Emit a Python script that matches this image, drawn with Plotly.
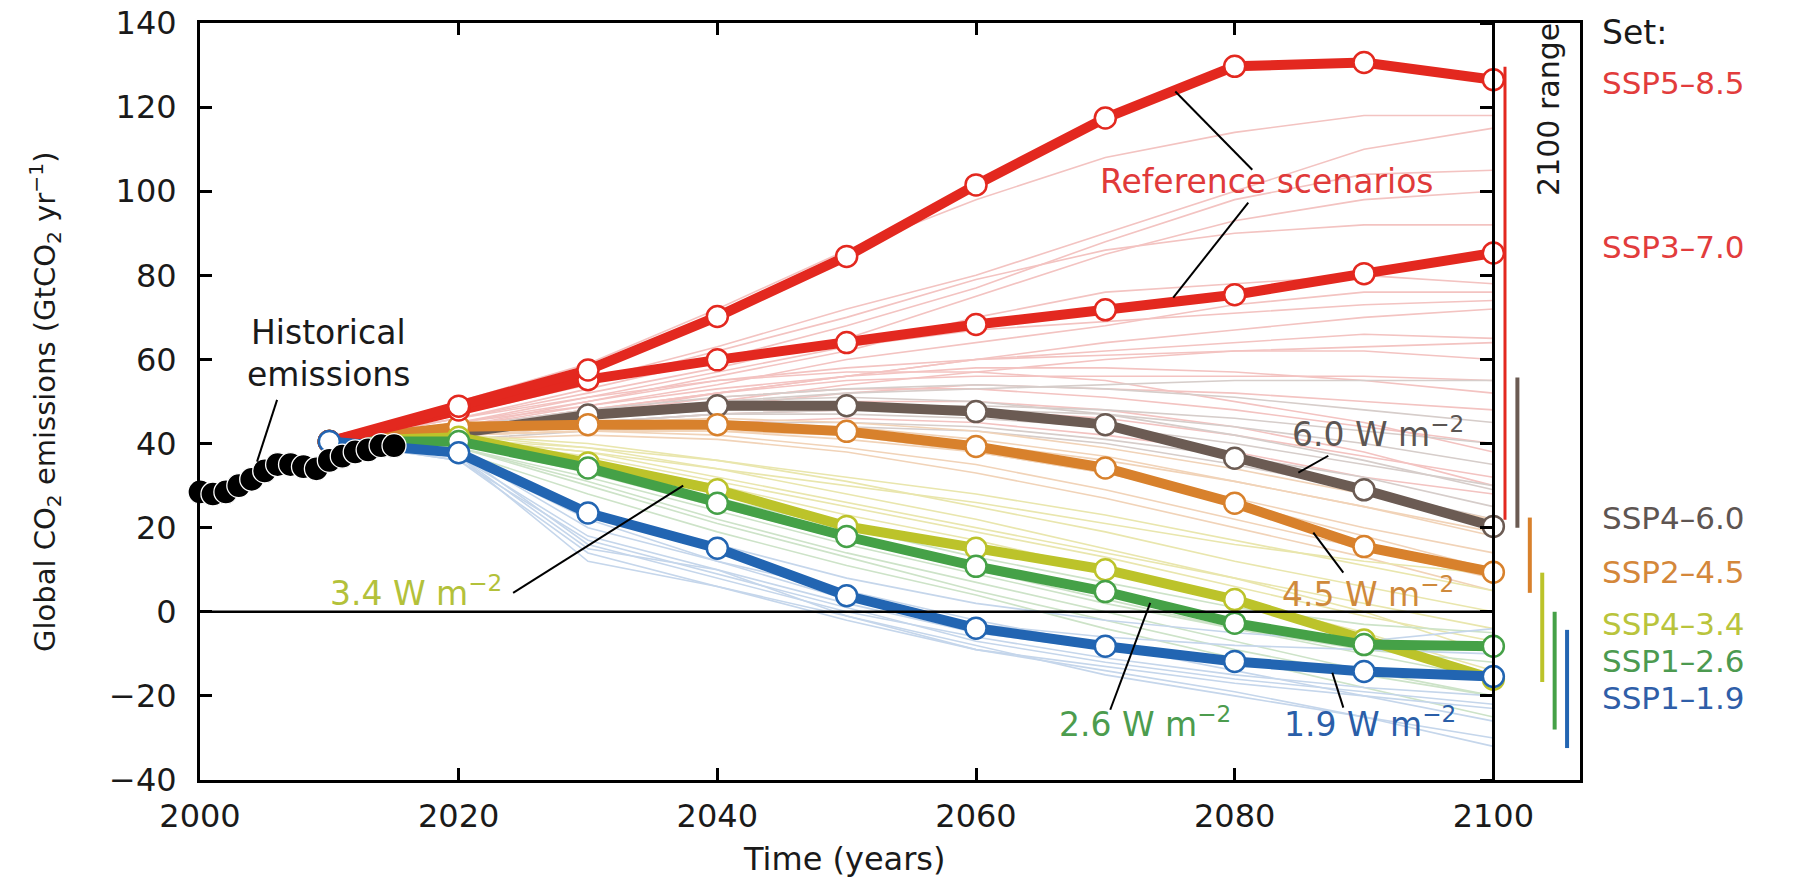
import plotly.graph_objects as go

# ---------------- data ----------------
years = [2010, 2020, 2030, 2040, 2050, 2060, 2070, 2080, 2090, 2100]

hist_years = list(range(2000, 2016))
hist_values = [28.5, 28.0, 28.5, 30.0, 31.5, 33.5, 35.0, 35.0, 34.5, 34.0,
               36.0, 37.0, 38.0, 38.5, 39.5, 39.5]

ssp585 = [40.5, 48.9, 57.5, 70.2, 84.5, 101.5, 117.4, 129.7, 130.6, 126.5]
ssp370 = [40.5, 48.0, 55.2, 59.9, 64.0, 68.3, 71.8, 75.4, 80.4, 85.3]
ssp460 = [40.5, 42.5, 46.8, 49.0, 49.0, 47.6, 44.5, 36.5, 29.0, 20.3]
ssp245 = [40.5, 44.0, 44.5, 44.5, 42.9, 39.3, 34.2, 25.8, 15.5, 9.4]
ssp434 = [40.5, 41.5, 35.4, 29.0, 20.3, 15.1, 10.0, 2.9, -6.7, -16.0]
ssp126 = [40.5, 40.5, 34.2, 25.8, 17.9, 10.8, 4.8, -2.7, -7.8, -8.2]
ssp119 = [40.5, 37.8, 23.5, 15.1, 3.8, -3.9, -8.2, -11.8, -14.2, -15.4]

# faint individual scenario runs
faint_pink = [
    [40.5, 50, 59, 72, 86, 98, 108, 114, 118, 118],
    [40.5, 47, 55, 63, 72, 80, 90, 100, 110, 115],
    [40.5, 46, 53, 60, 68, 77, 88, 98, 104, 105],
    [40.5, 46, 52, 58, 65, 75, 85, 93, 98, 100],
    [40.5, 47, 54, 62, 70, 79, 86, 90, 92, 92],
    [40.5, 45, 50, 56, 62, 70, 76, 78, 80, 78],
    [40.5, 45, 51, 57, 63, 67, 69, 71, 73, 74],
    [40.5, 44, 49, 54, 60, 64, 68, 73, 76, 76],
    [40.5, 44, 48, 52, 56, 60, 64, 67, 70, 72],
    [40.5, 44, 48, 52, 56, 60, 62, 64, 66, 65],
    [40.5, 43, 46, 50, 54, 57, 60, 62, 63, 64],
    [40.5, 46, 51, 55, 58, 60, 61, 62, 62, 60],
    [40.5, 44, 47, 52, 55, 56, 56, 56, 56, 55],
    [40.5, 45, 49, 53, 56, 58, 58, 57, 55, 52],
    [40.5, 43, 46, 49, 52, 54, 53, 52, 50, 48],
    [40.5, 43, 47, 51, 53, 53, 51, 48, 44, 40],
    [40.5, 44, 50, 55, 57, 57, 55, 50, 45, 38],
    [40.5, 43, 45, 47, 48, 48, 46, 42, 37, 32],
    [40.5, 42, 44, 45, 46, 45, 42, 38, 32, 28],
    [40.5, 43, 46, 49, 50, 50, 48, 44, 38, 30],
]
faint_gray = [
    [40.5, 43, 47, 50, 52, 53, 54, 55, 55, 55],
    [40.5, 44, 48, 51, 53, 54, 53, 51, 48, 45],
    [40.5, 43, 46, 48, 49, 49, 48, 46, 43, 40],
    [40.5, 42, 45, 47, 48, 48, 47, 44, 40, 35],
    [40.5, 42, 45, 47, 47, 46, 44, 40, 35, 30],
    [40.5, 42, 44, 45, 45, 44, 41, 37, 32, 25],
    [40.5, 43, 47, 50, 51, 50, 47, 42, 36, 29],
    [40.5, 41, 43, 44, 44, 43, 40, 35, 29, 22],
]
faint_orange = [
    [40.5, 43, 45, 46, 45, 43, 39, 34, 28, 22],
    [40.5, 42, 43, 43, 42, 40, 36, 31, 25, 19],
    [40.5, 42, 43, 43, 41, 38, 33, 27, 20, 14],
    [40.5, 42, 43, 42, 39, 35, 29, 22, 15, 8],
    [40.5, 43, 44, 44, 42, 38, 33, 26, 18, 10],
    [40.5, 41, 42, 41, 38, 33, 27, 20, 13, 5],
    [40.5, 42, 44, 45, 44, 41, 37, 31, 25, 18],
]
faint_yellow = [
    [40.5, 41, 38, 34, 30, 26, 21, 16, 12, 9],
    [40.5, 41, 39, 36, 32, 28, 23, 17, 11, 5],
    [40.5, 42, 40, 36, 31, 25, 19, 12, 6, 0],
    [40.5, 41, 37, 31, 25, 19, 13, 6, -1, -7],
    [40.5, 42, 39, 34, 28, 22, 15, 8, 0, -10],
    [40.5, 40, 36, 30, 23, 17, 10, 3, -5, -14],
    [40.5, 41, 38, 32, 26, 20, 14, 8, 2, -4],
]
faint_green = [
    [40.5, 40, 34, 27, 20, 13, 7, 1, -3, -5],
    [40.5, 39, 32, 24, 16, 9, 2, -4, -9, -12],
    [40.5, 40, 33, 25, 17, 10, 3, -4, -10, -16],
    [40.5, 39, 30, 21, 13, 5, -2, -9, -15, -20],
    [40.5, 38, 28, 19, 11, 4, -4, -11, -18, -25],
    [40.5, 39, 31, 22, 14, 7, 0, -7, -14, -20],
]
faint_blue = [
    [40.5, 37, 22, 12, 3, -3, -6, -8, -9, -10],
    [40.5, 37, 18, 10, 2, -5, -9, -12, -14, -16],
    [40.5, 38, 16, 8, 0, -6, -11, -15, -18, -20],
    [40.5, 36, 17, 9, 1, -7, -12, -16, -19, -22],
    [40.5, 36, 14, 6, -2, -9, -13, -17, -20, -23],
    [40.5, 38, 20, 12, 5, -2, -8, -14, -20, -26],
    [40.5, 37, 12, 6, -1, -8, -15, -20, -25, -30],
    [40.5, 38, 24, 16, 8, 2, -2, -5, -7, -4],
    [40.5, 37, 15, 10, -1, -9, -14, -19, -25, -32],
]

# 2100 ranges per scenario set
range_names = ["Reference", "SSP4-6.0", "SSP2-4.5", "SSP4-3.4", "SSP1-2.6", "SSP1-1.9"]
range_low = [21.9, 20.0, 4.5, -16.7, -28.0, -32.4]
range_high = [129.6, 55.7, 22.4, 9.3, 0.0, -4.3]

set_labels = ["SSP5–8.5", "SSP3–7.0", "SSP4–6.0", "SSP2–4.5", "SSP4–3.4", "SSP1–2.6", "SSP1–1.9"]

# ---------------- styles ----------------
RED = "#e3281f"
BROWN = "#6b5b53"
ORANGE = "#d8812c"
YELLOW = "#bcc32a"
GREEN = "#45a147"
BLUE = "#2265b2"
FONT = "DejaVu Sans"

XMIN, XMAX = 2000, 2106.7
YMIN, YMAX = -40, 140

fig = go.Figure()

faint_groups = [
    (faint_pink, "#f3c3c1"),
    (faint_gray, "#d6cdca"),
    (faint_orange, "#f1d3b8"),
    (faint_yellow, "#e9e6ad"),
    (faint_green, "#cde3c8"),
    (faint_blue, "#c5d6eb"),
]
for group, col in faint_groups:
    for run in group:
        fig.add_trace(go.Scatter(x=years, y=run, mode="lines",
                                 line=dict(color=col, width=1.6),
                                 hoverinfo="skip"))

main = [
    (ssp460, BROWN),
    (ssp245, ORANGE),
    (ssp434, YELLOW),
    (ssp126, GREEN),
    (ssp370, RED),
    (ssp585, RED),
    (ssp119, BLUE),
]
for vals, col in main:
    fig.add_trace(go.Scatter(
        x=years, y=vals, mode="lines+markers",
        line=dict(color=col, width=10),
        marker=dict(size=21, color="white", line=dict(color=col, width=2.5)),
        cliponaxis=False, hoverinfo="skip"))

fig.add_trace(go.Scatter(
    x=hist_years, y=hist_values, mode="lines+markers",
    line=dict(color="black", width=14),
    marker=dict(size=24, color="black", line=dict(color="white", width=1.3)),
    cliponaxis=False, hoverinfo="skip"))

# 2100 range bars
range_colors = [RED, BROWN, ORANGE, YELLOW, GREEN, BLUE]
range_widths = [3, 4, 4, 4, 4, 4]
for i, (lo, hi) in enumerate(zip(range_low, range_high)):
    xpos = 2100.9 + 0.96 * i
    fig.add_trace(go.Scatter(x=[xpos, xpos], y=[lo, hi], mode="lines",
                             line=dict(color=range_colors[i], width=range_widths[i]),
                             hoverinfo="skip", cliponaxis=False))

# dummy trace to activate the axis drawn at 2100
fig.add_trace(go.Scatter(x=[None], y=[None], yaxis="y2", hoverinfo="skip"))

pos2100 = (2100 - XMIN) / (XMAX - XMIN)

fig.update_layout(
    width=1800, height=882,
    margin=dict(l=200, r=220, t=23, b=102, autoexpand=False),
    plot_bgcolor="white", paper_bgcolor="white",
    showlegend=False,
    font=dict(family=FONT, size=32, color="#1a1a1a"),
    xaxis=dict(range=[XMIN, XMAX], tickvals=[2000, 2020, 2040, 2060, 2080, 2100],
               ticks="inside", ticklen=12, tickwidth=2.5, tickcolor="black",
               showline=True, linewidth=3, linecolor="black", mirror="ticks",
               showgrid=False, zeroline=False, ticklabelstandoff=6, automargin=False,
               ticklabeloverflow="allow",
               tickfont=dict(size=32, family=FONT, color="#1a1a1a")),
    yaxis=dict(range=[YMIN, YMAX], tickvals=list(range(-40, 141, 20)),
               ticks="inside", ticklen=12, tickwidth=2.5, tickcolor="black",
               showline=True, linewidth=3, linecolor="black", mirror=True,
               showgrid=False, zeroline=False, ticklabelstandoff=14, automargin=False,
               ticklabeloverflow="allow",
               tickfont=dict(size=32, family=FONT, color="#1a1a1a")),
    yaxis2=dict(range=[YMIN, YMAX], tickvals=list(range(-40, 141, 20)),
                overlaying="y", anchor="free", position=pos2100, side="left",
                ticks="outside", ticklen=12, tickwidth=2.5, tickcolor="black",
                showticklabels=False, showline=True, linewidth=3, linecolor="black",
                showgrid=False, zeroline=False, automargin=False),
)

# zero line
fig.add_shape(type="line", xref="x", yref="y", x0=2000, x1=2100, y0=0, y1=0,
              line=dict(color="black", width=2.5), layer="above")

# leader lines (annotation pointers)
pointers = [
    ((2005.96, 50.4), (2004.41, 35.7)),
    ((2075.41, 123.7), (2081.36, 105.1)),
    ((2081.05, 97.3), (2075.25, 74.7)),
    ((2087.24, 37.1), (2084.92, 33.1)),
    ((2088.4, 9.3), (2086.08, 18.8)),
    ((2070.38, -23.3), (2073.47, 2.1)),
    ((2088.4, -22.8), (2087.55, -14.5)),
    ((2024.21, 4.5), (2037.36, 30.0)),
]
for (xa, ya), (xb, yb) in pointers:
    fig.add_shape(type="line", xref="x", yref="y", x0=xa, y0=ya, x1=xb, y1=yb,
                  line=dict(color="black", width=2), layer="above")

def note(text, x, y, color, size=33, xanchor="center", xref="x", angle=0):
    fig.add_annotation(text=text, x=x, y=y, xref=xref, yref="y", showarrow=False,
                       xanchor=xanchor, yanchor="middle", textangle=angle,
                       font=dict(family=FONT, size=size, color=color))

note("Historical", 2009.9, 66.3, "#1a1a1a")
note("emissions", 2009.9, 56.4, "#1a1a1a")
note("Reference scenarios", 2082.5, 102.3, "#e03a3a")
note("6.0 W m<sup>−2</sup>", 2091.1, 42.6, "#5c5653")
note("4.5 W m<sup>−2</sup>", 2090.3, 4.5, "#cf8a3c")
note("2.6 W m<sup>−2</sup>", 2073.1, -26.4, "#4c9c4e")
note("1.9 W m<sup>−2</sup>", 2090.5, -26.4, "#2a5ea8")
note("3.4 W m<sup>−2</sup>", 2016.7, 4.8, "#b3c13a")
note("2100 range", 2104.25, 119.4, "#1a1a1a", size=30, angle=-90)

# set labels on the right
label_x = (1600 - 200) / 1380
label_y = [125.8, 86.8, 22.4, 9.5, -2.8, -11.6, -20.4]
label_colors = ["#e23c3c", "#e23c3c", "#5e5552", "#d4873a", "#b9c43c", "#4c9a50", "#2f5ea8"]
note("Set:", label_x, 137.7, "#1a1a1a", size=33, xanchor="left", xref="paper")
for txt, yv, col in zip(set_labels, label_y, label_colors):
    note(txt, label_x, yv, col, size=31, xanchor="left", xref="paper")

# axis titles
fig.add_annotation(text="Global CO<sub>2</sub> emissions (GtCO<sub>2</sub> yr<sup>−1</sup>)",
                   xref="paper", yref="paper", x=(45 - 200) / 1380, y=(780 - 402) / 757,
                   showarrow=False, textangle=-90, xanchor="center", yanchor="middle",
                   font=dict(family=FONT, size=29, color="#1a1a1a"))
fig.add_annotation(text="Time (years)", xref="paper", yref="paper",
                   x=(844 - 200) / 1380, y=-(859 - 780) / 757,
                   showarrow=False, xanchor="center", yanchor="middle",
                   font=dict(family=FONT, size=32, color="#1a1a1a"))

# remove the default page margin so the figure fills the window exactly
fig.write_html("out.html", config={"displayModeBar": False},
               post_script="document.body.style.margin='0';")
